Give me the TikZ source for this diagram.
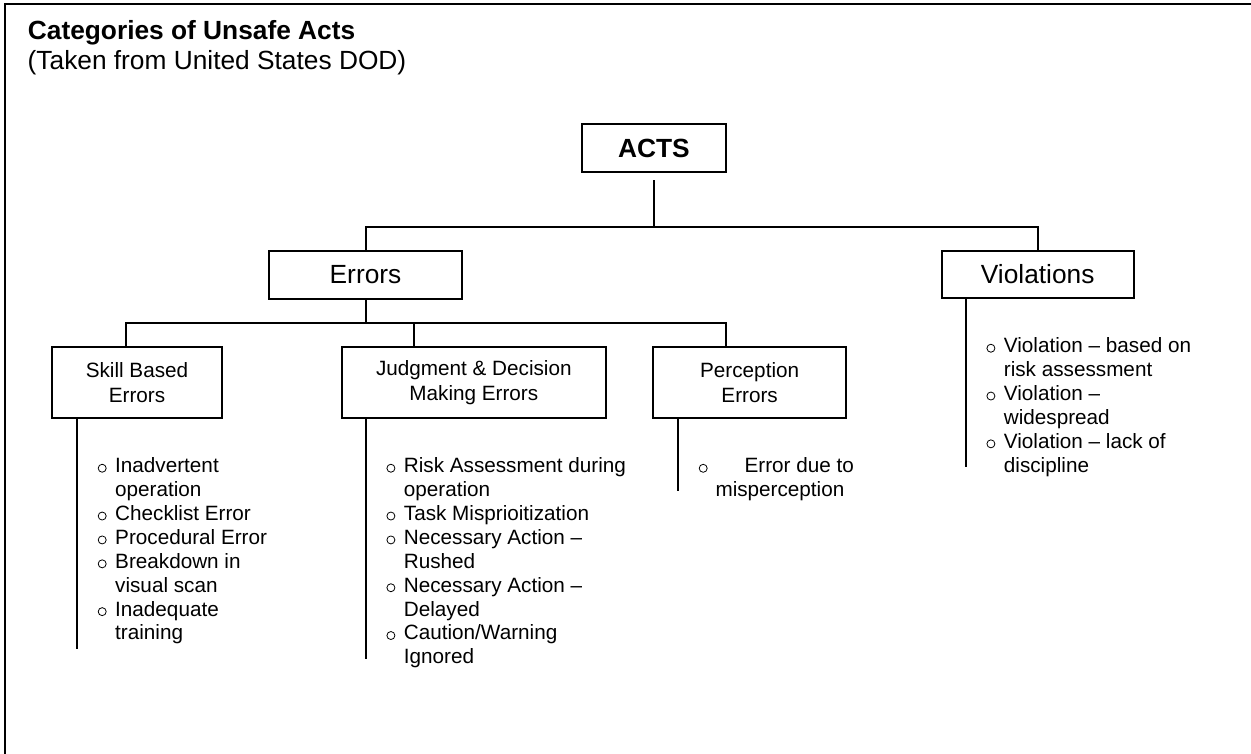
\documentclass[tikz,border=0pt]{standalone}
\usepackage{fontspec}
\setmainfont{Liberation Sans}
\newcommand\bigfont{\fontsize{26.3}{30}\selectfont}
\newcommand\boxfont{\fontsize{20.7}{24.3}\selectfont}
\newcommand\listfont{\fontsize{20.7}{23.9}\selectfont}
% hollow round bullet, sitting on the baseline
\newcommand\ring{\tikz[baseline=0pt]\draw[line width=0.8pt] (4.4pt,4.4pt) circle[radius=4pt];}
% bullet and hanging indent for the item lists
\newcommand\bl{\makebox[19pt][l]{\hspace{1.6pt}\ring}}
\newcommand\ind{\hspace*{19pt}}
\begin{document}
\begin{tikzpicture}[x=1pt,y=-1pt,
  box/.style={draw,line width=2pt,inner sep=0pt,align=center},
  link/.style={line width=2pt},
  frame/.style={line width=2.5pt},
  list/.style={inner sep=0pt,anchor=north west,align=left,font=\listfont}]
\useasboundingbox (0,0) rectangle (1251,753);
% page frame (top and left edges)
\draw[frame] (5,770) -- (5,4) -- (1270,4);

% heading
\node[anchor=base west,inner sep=0pt,font=\bigfont\bfseries] (title) at (27.7,39) {Categories of Unsafe Acts};
\node[anchor=base west,inner sep=0pt,font=\bigfont] (source) at (27.5,69.3) {(Taken from United States DOD)};

% boxes
\node[box,minimum width=144.3pt,minimum height=48.3pt,font=\bigfont\bfseries] (acts) at (653.9,148.2) {ACTS};
\node[box,minimum width=193pt,minimum height=48pt,font=\bigfont] (errors) at (365.5,274.7) {Errors};
\node[box,minimum width=192pt,minimum height=47.6pt,font=\bigfont] (viol) at (1037.7,274.5) {Violations};
\node[box,minimum width=170pt,minimum height=71pt,font=\boxfont] (skill) at (137,382.5) {Skill Based\\Errors};
\node[box,minimum width=264.3pt,minimum height=71.6pt,font=\boxfont] (judg) at (473.85,382.5) {Judgment \& Decision\\Making Errors};
\node[box,minimum width=192.7pt,minimum height=71.6pt,font=\boxfont] (perc) at (749.65,382.5) {Perception\\Errors};

% first level connectors
\coordinate (bar1) at (653.9,226.7);
\draw[link] ([yshift=-7pt]acts.south) -- (bar1);
\draw[link] (errors.north) |- (bar1) -| (viol.north);

% second level connectors
\coordinate (bar2) at (365.5,322.7);
\draw[link] (errors.south) -- (bar2);
\coordinate (skc) at ([xshift=-11.3pt]skill.north);
\coordinate (jdc) at ([xshift=-59.85pt]judg.north);
\coordinate (pcc) at ([xshift=-23.65pt]perc.north);
\draw[link] (skc) |- (bar2) -| (pcc);
\draw[link] (jdc) -- (jdc |- bar2);

% stems beside the item lists
\draw[link] ([xshift=-60pt]skill.south) -- ++(0,230);
\draw[link] ([xshift=-108.15pt]judg.south) -- ++(0,239.7);
\draw[link] ([xshift=-71.95pt]perc.south) -- ++(0,71.7);
\draw[link] ([xshift=-72pt]viol.south) -- ++(0,167.7);

% item lists
\node[list] (skilllist) at (96,455.7) {\strut\bl Inadvertent\\\ind operation\\\bl Checklist Error\\\bl Procedural Error\\\bl Breakdown in\\\ind visual scan\\\bl Inadequate\\\ind training};
\node[list] (judglist) at (384.7,455.7) {\strut\bl Risk Assessment during\\\ind operation\\\bl Task Misprioitization\\\bl Necessary Action –\\\ind Rushed\\\bl Necessary Action –\\\ind Delayed\\\bl Caution/Warning\\\ind Ignored};
\node[list,font=\fontsize{20.7}{24}\selectfont] (perclist) at (697,455.7) {\strut\makebox[47.4pt][l]{\hspace{1.6pt}\ring}Error due to\\\hspace*{18.3pt}misperception};
\node[list] (viollist) at (984.7,335.7) {\strut\bl Violation – based on\\\ind risk assessment\\\bl Violation –\\\ind widespread\\\bl Violation – lack of\\\ind discipline};
\end{tikzpicture}
\end{document}
